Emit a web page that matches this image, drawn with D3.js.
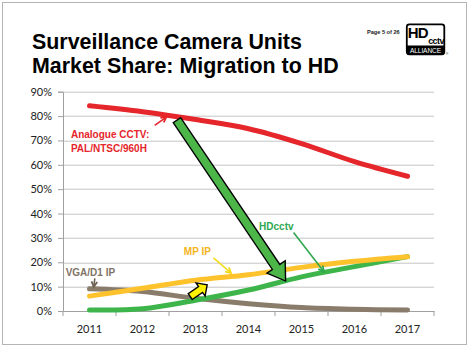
<!DOCTYPE html>
<html>
<head>
<meta charset="utf-8">
<script src="https://cdn.jsdelivr.net/npm/d3@7"></script>
<style>
  body { margin:0; background:#fff; }
  svg text { font-family: "Liberation Sans", Arial, sans-serif; }
  .axis text { font-family: Lato, "Open Sans", sans-serif; font-size:11px; fill:#222; }
</style>
</head>
<body>
<div id="canvas"></div>
<script>
// data (share of units, %)
var years = [2011, 2012, 2013, 2014, 2015, 2016, 2017];
var analogue = [84.2, 81.8, 78.6, 74.8, 68.7, 61.3, 55.3];
var mpIP     = [6.1, 9.3, 12.6, 14.9, 17.9, 20.4, 22.3];
var hdcctv   = [0.4, 0.9, 4.4, 8.6, 14.0, 18.2, 22.3];
var vgaIP    = [9.1, 8.0, 5.2, 3.0, 1.4, 0.7, 0.4];
var yTicks = [0, 10, 20, 30, 40, 50, 60, 70, 80, 90];

var W = 469, H = 347;
var m = {t:91.7, r:35, b:36, l:63};

var svg = d3.select('#canvas').append('svg')
    .attr('width', W).attr('height', H);

// frame
svg.append('rect')
    .attr('x', 2.5).attr('y', 2.5).attr('width', 464).attr('height', 342)
    .attr('fill', '#fff').attr('stroke', '#b5b5b5').attr('stroke-width', 1);

// title
svg.append('text').attr('x', 32).attr('y', 48.5)
    .attr('font-size', 21.4).attr('font-weight', 'bold').attr('fill', '#000')
    .text('Surveillance Camera Units');
svg.append('text').attr('x', 32).attr('y', 72.5)
    .attr('font-size', 21.4).attr('font-weight', 'bold').attr('fill', '#000')
    .text('Market Share: Migration to HD');

svg.append('text').attr('x', 367).attr('y', 34)
    .attr('font-size', 5.6).attr('font-weight', 'bold').attr('fill', '#222')
    .text('Page 5 of 26');

// HDcctv alliance logo
var logo = svg.append('g').attr('transform', 'translate(406,23.5)');
logo.append('rect').attr('x', 0.8).attr('y', 0.8).attr('width', 37.5).attr('height', 30).attr('rx', 2.5)
    .attr('fill', '#fff').attr('stroke', '#000').attr('stroke-width', 1.8);
logo.append('rect').attr('x', 1).attr('y', 22).attr('width', 37).attr('height', 9).attr('fill', '#000');
logo.append('text').attr('x', 1.8).attr('y', 14).attr('font-size', 15).attr('font-weight', 'bold')
    .attr('fill', '#000').attr('letter-spacing', -1).text('HD');
logo.append('text').attr('x', 22.2).attr('y', 20).attr('font-size', 9).attr('font-weight', 'bold')
    .attr('fill', '#000').attr('letter-spacing', -0.6).text('cctv');
logo.append('text').attr('x', 19.5).attr('y', 29.8).attr('text-anchor', 'middle').attr('font-size', 6.6)
    .attr('fill', '#fff').attr('letter-spacing', -0.1).text('ALLIANCE');
logo.append('text').attr('x', 39.8).attr('y', 31.5).attr('font-size', 3.5).attr('fill', '#000').text('®');

var w = W - m.l - m.r, h = H - m.t - m.b;
var plot = svg.append('g').attr('transform', 'translate(' + m.l + ',' + m.t + ')');

var scaleX = d3.scaleBand().domain(years).range([0, w]).padding(0);
var bw = scaleX.bandwidth();
var cx = function(yr){ return scaleX(yr) + bw / 2; };
// continuous year scale for placing the annotations
var yearX = d3.scaleLinear().domain([2011, 2017]).range([cx(2011), cx(2017)]);
var scaleY = d3.scaleLinear().domain([0, 90]).range([h, 0]);

// gridlines
plot.selectAll('.grid').data(yTicks.slice(1)).enter().append('line')
    .attr('x1', 0).attr('x2', w)
    .attr('y1', function(d){ return Math.round(scaleY(d)) + 0.5; })
    .attr('y2', function(d){ return Math.round(scaleY(d)) + 0.5; })
    .attr('stroke', '#c4c4c4').attr('stroke-width', 1);

var axisY = d3.axisLeft(scaleY).tickValues(yTicks)
    .tickFormat(function(d){ return d + '%'; }).tickSize(5).tickPadding(6);
var gy = plot.append('g').attr('class', 'axis').call(axisY);
gy.select('.domain').attr('stroke', '#a0a0a0');
gy.selectAll('.tick line').attr('stroke', '#a0a0a0');

var axisX = d3.axisBottom(scaleX).tickSize(0).tickPadding(14);
var gx = plot.append('g').attr('class', 'axis')
    .attr('transform', 'translate(0,' + h + ')').call(axisX);
gx.select('.domain').attr('stroke', '#a0a0a0');
// tick marks at band boundaries
gx.selectAll('.bound').data(years.concat([null])).enter().append('line')
    .attr('x1', function(d, i){ return i * bw; }).attr('x2', function(d, i){ return i * bw; })
    .attr('y1', 0).attr('y2', 5).attr('stroke', '#a0a0a0');

// series
var series = [
  {name:'vga', vals:vgaIP, color:'#8a7c6a'},
  {name:'hd', vals:hdcctv, color:'#3db54a'},
  {name:'mp', vals:mpIP, color:'#fdc22c'},
  {name:'analogue', vals:analogue, color:'#e5262b'}
];
var line = d3.line()
    .x(function(d, i){ return cx(years[i]); })
    .y(function(d){ return scaleY(d); })
    .curve(d3.curveCatmullRom.alpha(0.5));

plot.selectAll('.series').data(series).enter().append('path')
    .attr('d', function(d){ return line(d.vals); })
    .attr('fill', 'none')
    .attr('stroke', function(d){ return d.color; })
    .attr('stroke-width', 5)
    .attr('stroke-linecap', 'round');

// annotations (positioned in data units)
var P = function(yr, v){ return [yearX(yr), scaleY(v)]; };

function thinArrow(from, to, color){
  var a = P(from[0], from[1]), b = P(to[0], to[1]);
  var ang = Math.atan2(b[1] - a[1], b[0] - a[0]);
  plot.append('line').attr('x1', a[0]).attr('y1', a[1]).attr('x2', b[0]).attr('y2', b[1])
      .attr('stroke', color).attr('stroke-width', 1.6);
  var L = 6, sp = 0.5;
  plot.append('path')
      .attr('d', 'M' + (b[0] - L * Math.cos(ang - sp)) + ',' + (b[1] - L * Math.sin(ang - sp)) +
                 'L' + b[0] + ',' + b[1] +
                 'L' + (b[0] - L * Math.cos(ang + sp)) + ',' + (b[1] - L * Math.sin(ang + sp)))
      .attr('fill', 'none').attr('stroke', color).attr('stroke-width', 1.8);
}

function blockArrow(from, to, shaft, head, headLen, fill){
  var a = P(from[0], from[1]), b = P(to[0], to[1]);
  var dx = b[0] - a[0], dy = b[1] - a[1], len = Math.sqrt(dx * dx + dy * dy);
  var ux = dx / len, uy = dy / len, nx = -uy, ny = ux;
  var bx = b[0] - ux * headLen, by = b[1] - uy * headLen;
  var pts = [
    [a[0] + nx * shaft / 2, a[1] + ny * shaft / 2],
    [bx + nx * shaft / 2, by + ny * shaft / 2],
    [bx + nx * head / 2, by + ny * head / 2],
    b,
    [bx - nx * head / 2, by - ny * head / 2],
    [bx - nx * shaft / 2, by - ny * shaft / 2],
    [a[0] - nx * shaft / 2, a[1] - ny * shaft / 2]
  ];
  plot.append('path').attr('d', 'M' + pts.join('L') + 'Z')
      .attr('fill', fill).attr('stroke', '#000').attr('stroke-width', 1.4)
      .attr('stroke-linejoin', 'miter');
}

function label(lines, yr, v, color){
  var p = P(yr, v);
  var t = plot.append('text').attr('x', p[0]).attr('y', p[1])
      .attr('font-size', 10).attr('font-weight', 'bold').attr('fill', color);
  lines.forEach(function(s, i){
    t.append('tspan').attr('x', p[0]).attr('dy', i ? 14 : 0).text(s);
  });
}

label(['Analogue CCTV:', 'PAL/NTSC/960H'], 2010.65, 71.0, '#e5262b');
thinArrow([2012.23, 76.2], [2012.45, 79.6], '#e5262b');

label(['MP IP'], 2012.78, 23.0, '#f5b418');
thinArrow([2013.34, 21.8], [2013.67, 15.6], '#f3dc17');

label(['HDcctv'], 2014.2, 33.2, '#2fa84f');
thinArrow([2014.85, 32.2], [2015.42, 16.2], '#2fa84f');

label(['VGA/D1 IP'], 2010.55, 14.3, '#7f7366');
thinArrow([2011.1, 13.4], [2011.08, 9.9], '#6e6253');

blockArrow([2012.65, 78.3], [2014.7, 12.3], 9, 22, 17, '#4cb748');
blockArrow([2012.9, 5.9], [2013.22, 10.7], 7, 16, 8, '#fff200');
</script>
</body>
</html>
